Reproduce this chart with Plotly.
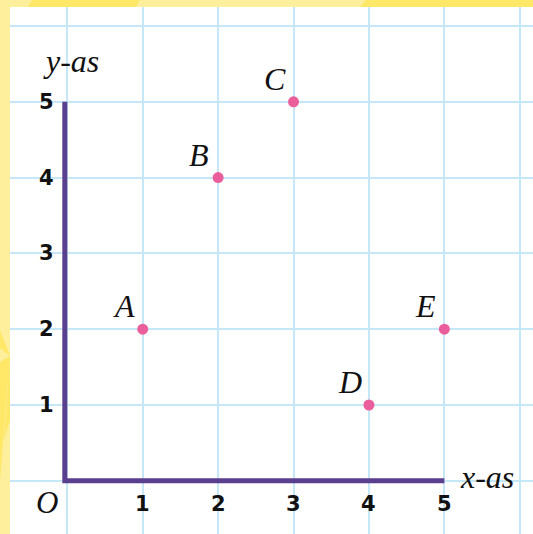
import plotly.graph_objects as go

# ---- data ----
point_labels = ["A", "B", "C", "D", "E"]
point_x = [1, 2, 3, 4, 5]
point_y = [2, 4, 5, 1, 2]
x_tick_vals = [1, 2, 3, 4, 5]
y_tick_vals = [1, 2, 3, 4, 5]
x_axis_title = "x-as"
y_axis_title = "y-as"
origin_label = "O"

# ---- styles ----
W, H = 533, 534
ML, MT = 10, 7
PW, PH = W - ML, H - MT
X_RANGE = [-0.760, 6.176]
Y_RANGE = [-0.702, 6.251]
PURPLE = "#5a3f8f"
PINK = "#ea5f9b"
GRID = "#c6e7f8"
PALE = "#fdef9c"
DARK = "#ffe768"
SERIF = "Liberation Serif"
SANS = "DejaVu Sans"


def px2paper(px, py):
    return (px - ML) / PW, 1 - (py - MT) / PH


def poly(points, color):
    pts = [px2paper(a, b) for a, b in points]
    d = "M " + " L ".join(f"{a:.5f},{b:.5f}" for a, b in pts) + " Z"
    return dict(type="path", path=d, xref="paper", yref="paper",
                fillcolor=color, line=dict(width=0), layer="below")


fig = go.Figure()

fig.add_trace(go.Scatter(
    x=point_x, y=point_y, mode="markers",
    marker=dict(size=11, color=PINK, line=dict(width=0)),
    hoverinfo="skip", showlegend=False,
))

shapes = [
    # decorative yellow rays in the margins
    poly([(32, 0), (140, 0), (136, 7), (28, 7)], DARK),
    poly([(366, 0), (533, 0), (533, 7), (360, 7)], DARK),
    poly([(0, 330), (10, 356), (0, 348)], DARK),
    poly([(0, 362), (10, 356), (0, 480)], DARK),
    poly([(10, 356), (10, 420), (4, 440)], DARK),
    # axes (L shape)
    dict(type="path", path="M -0.033,5 L -0.033,0 L 5,0", xref="x", yref="y",
         line=dict(color=PURPLE, width=5), layer="above"),
]

annotations = []
for lab, x, y in zip(point_labels, point_x, point_y):
    annotations.append(dict(
        x=x, y=y, text=lab, showarrow=False, xshift=-19, yshift=23,
        xanchor="center", yanchor="middle",
        font=dict(family=SERIF, size=32, style="italic", color="#111111"),
    ))
for v in x_tick_vals:
    annotations.append(dict(
        x=v, y=0, text=str(v), showarrow=False, yshift=-23,
        xanchor="center", yanchor="middle",
        font=dict(family=SANS, size=21, weight="bold", color="#111111"),
    ))
for v in y_tick_vals:
    annotations.append(dict(
        x=0, y=v, text=str(v), showarrow=False, xshift=-21,
        xanchor="center", yanchor="middle",
        font=dict(family=SANS, size=21, weight="bold", color="#111111"),
    ))
annotations.append(dict(
    x=0, y=0, text=origin_label, showarrow=False, xshift=-20, yshift=-22,
    xanchor="center", yanchor="middle",
    font=dict(family=SERIF, size=31, style="italic", color="#111111"),
))
annotations.append(dict(
    x=0, y=5, text=y_axis_title, showarrow=False, xshift=4, yshift=41,
    xanchor="center", yanchor="middle",
    font=dict(family=SERIF, size=32, style="italic", color="#111111"),
))
annotations.append(dict(
    x=5, y=0, text=x_axis_title, showarrow=False, xshift=14, yshift=4,
    xanchor="left", yanchor="middle",
    font=dict(family=SERIF, size=32, style="italic", color="#111111"),
))

axis_common = dict(
    showgrid=True, gridcolor=GRID, gridwidth=1.6,
    tick0=0, dtick=1, showticklabels=False, ticks="",
    zeroline=False, showline=False, fixedrange=True,
)

fig.update_layout(
    width=W, height=H,
    margin=dict(l=ML, r=0, t=MT, b=0, pad=0),
    paper_bgcolor=PALE, plot_bgcolor="white",
    xaxis=dict(range=X_RANGE, **axis_common),
    yaxis=dict(range=Y_RANGE, **axis_common),
    shapes=shapes, annotations=annotations,
    showlegend=False,
)

fig.write_html(
    "out.html",
    config={"displayModeBar": False},
    post_script="document.body.style.margin='0';document.body.style.overflow='hidden';",
)
